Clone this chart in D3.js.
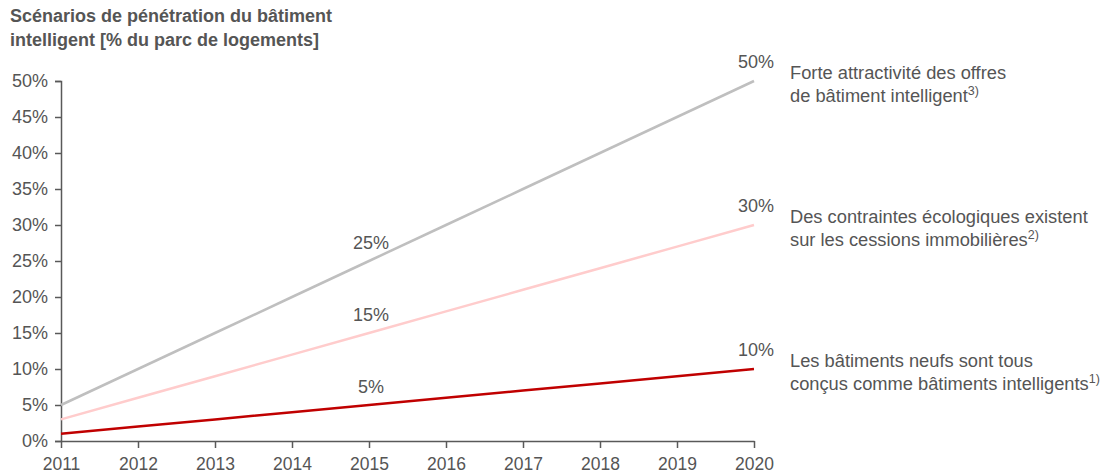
<!DOCTYPE html>
<html><head><meta charset="utf-8">
<script src="https://cdn.jsdelivr.net/npm/d3@7"></script>
<style>body{margin:0;background:#fff;} text{font-family:"Liberation Sans",Arial,sans-serif;}</style>
</head><body>
<svg id="c" width="1102" height="475"></svg>
<script>
const years = [2011,2012,2013,2014,2015,2016,2017,2018,2019,2020];
const highSeries = [5,10,15,20,25,30,35,40,45,50];
const midSeries = [3,6,9,12,15,18,21,24,27,30];
const lowSeries = [1,2,3,4,5,6,7,8,9,10];
const yTicks = [0,5,10,15,20,25,30,35,40,45,50];
const seriesNames = [
  ["Forte attractivité des offres","de bâtiment intelligent","3)"],
  ["Des contraintes écologiques existent","sur les cessions immobilières","2)"],
  ["Les bâtiments neufs sont tous","conçus comme bâtiments intelligents","1)"]
];
const seriesColors = ["#bfbfbf","#ffcccc","#c00000"];
const series = [highSeries, midSeries, lowSeries];

const svg = d3.select("#c");
const x = d3.scaleLinear().domain([2011,2020]).range([61,754]);
const y = d3.scaleLinear().domain([0,50]).range([441,81]);
const txt = "#555";
const FF = "Liberation Sans, Arial, sans-serif";

svg.append("text").attr("x",10).attr("y",22).attr("font-size",18).attr("font-weight","bold").attr("fill",txt)
  .text("Scénarios de pénétration du bâtiment");
svg.append("text").attr("x",10).attr("y",46).attr("font-size",18).attr("font-weight","bold").attr("fill",txt)
  .text("intelligent [% du parc de logements]");

const ya = svg.append("g").attr("transform","translate(61,0)")
  .call(d3.axisLeft(y).tickValues(yTicks).tickFormat(d=>d+"%").tickSize(6).tickPadding(7));
ya.select(".domain").attr("stroke","#595959").attr("stroke-width",1.5);
ya.selectAll("line").attr("stroke","#595959").attr("stroke-width",1.5);
ya.selectAll("text").attr("font-size",18).attr("fill",txt).attr("font-family",FF);

const xa = svg.append("g").attr("transform","translate(0,441)")
  .call(d3.axisBottom(x).tickValues(years).tickFormat(d3.format("d")).tickSize(7).tickSizeOuter(0).tickPadding(10));
xa.select(".domain").attr("stroke","#595959").attr("stroke-width",1.5);
xa.selectAll("line").attr("stroke","#595959").attr("stroke-width",1.5);
xa.selectAll("text").attr("font-size",17.5).attr("fill",txt).attr("font-family",FF);

const line = d3.line().x((d,i)=>x(years[i])).y(d=>y(d));
series.forEach((s,k)=>{
  svg.append("path").attr("d",line(s)).attr("fill","none").attr("stroke",seriesColors[k]).attr("stroke-width",2.5);
  svg.append("text").attr("x",x(2015)+2).attr("y",y(s[4])-12).attr("text-anchor","middle")
    .attr("font-size",18).attr("fill",txt).text(s[4]+"%");
  svg.append("text").attr("x",x(2020)+2).attr("y",y(s[9])-13).attr("text-anchor","middle")
    .attr("font-size",18).attr("fill",txt).text(s[9]+"%");
  const ty = y(s[9]) - 2;
  svg.append("text").attr("x",790).attr("y",ty).attr("font-size",18.3).attr("fill",txt).text(seriesNames[k][0]);
  const t2 = svg.append("text").attr("x",790).attr("y",ty+23).attr("font-size",18.3).attr("fill",txt);
  t2.append("tspan").text(seriesNames[k][1]);
  t2.append("tspan").attr("font-size",12.5).attr("dy",-7).text(seriesNames[k][2]);
});
</script>
</body></html>
